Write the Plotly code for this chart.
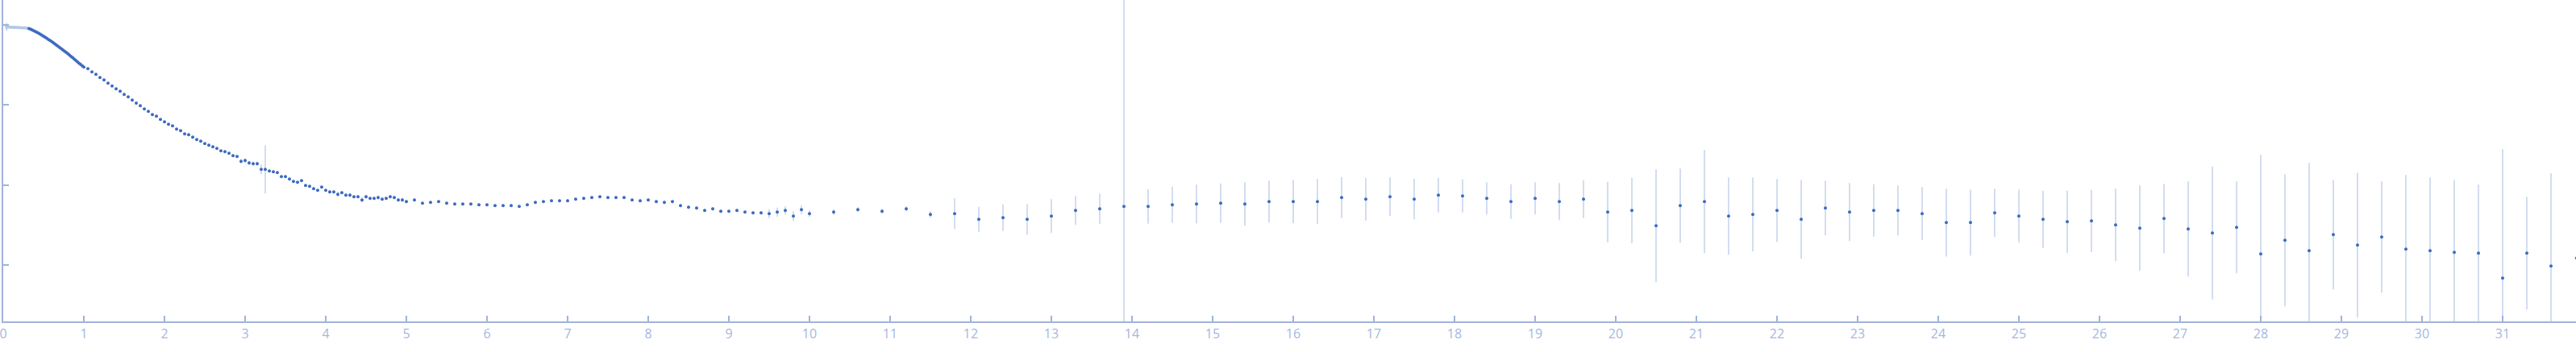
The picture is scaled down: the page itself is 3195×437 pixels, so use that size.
"""
Courbe de diffusion (log I en fonction de q) avec barres d'erreur
Reproduction en Plotly, export HTML
"""

import plotly.graph_objects as go

# --- Données -----------------------------------------------------------
# Points exclus (début de courbe, couleur claire)
q_excluded = [0.04, 0.06, 0.08, 0.10, 0.12, 0.14, 0.16, 0.18, 0.20, 0.22,
              0.24, 0.26, 0.28, 0.30]
logi_excluded = [-0.024, -0.027, -0.026, -0.029, -0.028, -0.031, -0.030,
                 -0.033, -0.032, -0.034, -0.036, -0.035, -0.038, -0.039]
err_excluded = [0.05, 0.006, 0.006, 0.006, 0.006, 0.006, 0.006, 0.006,
                0.006, 0.006, 0.006, 0.006, 0.006, 0.006]

# Région dense (0.32 -> 1.00)
q_dense = [0.32, 0.34, 0.36, 0.38, 0.40, 0.42, 0.44, 0.46, 0.48, 0.50,
           0.52, 0.54, 0.56, 0.58, 0.60, 0.62, 0.64, 0.66, 0.68, 0.70,
           0.72, 0.74, 0.76, 0.78, 0.80, 0.82, 0.84, 0.86, 0.88, 0.90,
           0.92, 0.94, 0.96, 0.98, 1.00]
logi_dense = [-0.045, -0.053, -0.062, -0.072, -0.082, -0.093, -0.104, -0.116, -0.128, -0.141,
              -0.154, -0.167, -0.180, -0.193, -0.207, -0.221, -0.236, -0.252, -0.267, -0.282,
              -0.297, -0.312, -0.327, -0.342, -0.357, -0.374, -0.391, -0.408, -0.426, -0.443,
              -0.460, -0.477, -0.494, -0.510, -0.525]

# Pas de 0.05 (1.05 -> 5.00)
q_fine = [1.05, 1.10, 1.15, 1.20, 1.25, 1.30, 1.35, 1.40, 1.45, 1.50,
          1.55, 1.60, 1.65, 1.70, 1.75, 1.80, 1.85, 1.90, 1.95, 2.00,
          2.05, 2.10, 2.15, 2.20, 2.25, 2.30, 2.35, 2.40, 2.45, 2.50,
          2.55, 2.60, 2.65, 2.70, 2.75, 2.80, 2.85, 2.90, 2.95, 3.00,
          3.05, 3.10, 3.15, 3.20, 3.25, 3.30, 3.35, 3.40, 3.45, 3.50,
          3.55, 3.60, 3.65, 3.70, 3.75, 3.80, 3.85, 3.90, 3.95, 4.00,
          4.05, 4.10, 4.15, 4.20, 4.25, 4.30, 4.35, 4.40, 4.45, 4.50,
          4.55, 4.60, 4.65, 4.70, 4.75, 4.80, 4.85, 4.90, 4.95, 5.00]
logi_fine = [-0.546, -0.587, -0.617, -0.657, -0.687, -0.727, -0.762, -0.798, -0.828, -0.868,
             -0.898, -0.939, -0.976, -1.009, -1.049, -1.079, -1.120, -1.140, -1.180, -1.210,
             -1.240, -1.261, -1.301, -1.321, -1.361, -1.371, -1.401, -1.432, -1.452, -1.482,
             -1.502, -1.522, -1.542, -1.572, -1.582, -1.603, -1.633, -1.643, -1.703, -1.693,
             -1.723, -1.733, -1.733, -1.804, -1.804, -1.824, -1.834, -1.844, -1.894, -1.894,
             -1.925, -1.955, -1.965, -1.945, -2.005, -2.015, -2.045, -2.065, -2.025, -2.065,
             -2.086, -2.086, -2.116, -2.096, -2.126, -2.126, -2.146, -2.146, -2.186, -2.146,
             -2.166, -2.166, -2.156, -2.176, -2.166, -2.146, -2.156, -2.186, -2.186, -2.206]
err_fine = [0.005, 0.005, 0.005, 0.005, 0.005, 0.005, 0.005, 0.005, 0.005, 0.005,
            0.005, 0.005, 0.005, 0.005, 0.005, 0.005, 0.005, 0.005, 0.005, 0.005,
            0.006, 0.006, 0.006, 0.006, 0.006, 0.008, 0.008, 0.008, 0.008, 0.008,
            0.010, 0.010, 0.010, 0.012, 0.012, 0.012, 0.015, 0.015, 0.030, 0.030,
            0.025, 0.025, 0.025, 0.060, 0.300, 0.015, 0.015, 0.015, 0.015, 0.015,
            0.015, 0.015, 0.015, 0.015, 0.015, 0.015, 0.015, 0.015, 0.015, 0.015,
            0.020, 0.020, 0.030, 0.020, 0.020, 0.025, 0.020, 0.020, 0.030, 0.020,
            0.020, 0.020, 0.025, 0.020, 0.020, 0.020, 0.020, 0.020, 0.025, 0.020]

# Pas de 0.1 (5.1 -> 10.0)
q_mid = [5.1, 5.2, 5.3, 5.4, 5.5, 5.6, 5.7, 5.8, 5.9, 6.0,
         6.1, 6.2, 6.3, 6.4, 6.5, 6.6, 6.7, 6.8, 6.9, 7.0,
         7.1, 7.2, 7.3, 7.4, 7.5, 7.6, 7.7, 7.8, 7.9, 8.0,
         8.1, 8.2, 8.3, 8.4, 8.5, 8.6, 8.7, 8.8, 8.9, 9.0,
         9.1, 9.2, 9.3, 9.4, 9.5, 9.6, 9.7, 9.8, 9.9, 10.0]
logi_mid = [-2.186, -2.226, -2.216, -2.206, -2.226, -2.236, -2.236, -2.236, -2.246, -2.246,
            -2.257, -2.257, -2.257, -2.267, -2.246, -2.216, -2.206, -2.196, -2.196, -2.196,
            -2.176, -2.166, -2.156, -2.146, -2.156, -2.156, -2.156, -2.186, -2.196, -2.186,
            -2.206, -2.216, -2.206, -2.257, -2.277, -2.287, -2.317, -2.297, -2.327, -2.327,
            -2.317, -2.337, -2.347, -2.347, -2.357, -2.337, -2.317, -2.387, -2.307, -2.357]
err_mid = [0.015, 0.018, 0.015, 0.015, 0.018, 0.015, 0.015, 0.018, 0.015, 0.015,
           0.015, 0.015, 0.015, 0.015, 0.018, 0.020, 0.015, 0.015, 0.015, 0.015,
           0.015, 0.015, 0.015, 0.015, 0.015, 0.015, 0.015, 0.015, 0.015, 0.015,
           0.020, 0.020, 0.020, 0.020, 0.020, 0.020, 0.020, 0.020, 0.020, 0.020,
           0.020, 0.020, 0.020, 0.020, 0.057, 0.057, 0.050, 0.060, 0.055, 0.040]

# Pas de 0.3 (10.3 -> 31.9)
q_coarse = [10.3, 10.6, 10.9, 11.2, 11.5, 11.8, 12.1, 12.4, 12.7, 13.0,
            13.3, 13.6, 13.9, 14.2, 14.5, 14.8, 15.1, 15.4, 15.7, 16.0,
            16.3, 16.6, 16.9, 17.2, 17.5, 17.8, 18.1, 18.4, 18.7, 19.0,
            19.3, 19.6, 19.9, 20.2, 20.5, 20.8, 21.1, 21.4, 21.7, 22.0,
            22.3, 22.6, 22.9, 23.2, 23.5, 23.8, 24.1, 24.4, 24.7, 25.0,
            25.3, 25.6, 25.9, 26.2, 26.5, 26.8, 27.1, 27.4, 27.7, 28.0,
            28.3, 28.6, 28.9, 29.2, 29.5, 29.8, 30.1, 30.4, 30.7, 31.0,
            31.3, 31.6, 31.918]
logi_coarse = [-2.337, -2.307, -2.327, -2.297, -2.367, -2.357, -2.428, -2.407, -2.428, -2.387,
               -2.317, -2.297, -2.267, -2.267, -2.246, -2.236, -2.226, -2.236, -2.206, -2.206,
               -2.206, -2.156, -2.176, -2.146, -2.176, -2.126, -2.136, -2.166, -2.206, -2.166,
               -2.206, -2.176, -2.337, -2.317, -2.508, -2.257, -2.206, -2.387, -2.367, -2.317,
               -2.428, -2.287, -2.337, -2.317, -2.317, -2.357, -2.468, -2.468, -2.347, -2.387,
               -2.428, -2.458, -2.448, -2.498, -2.538, -2.418, -2.548, -2.599, -2.528, -2.860,
               -2.689, -2.820, -2.619, -2.750, -2.649, -2.800, -2.820, -2.840, -2.850, -3.162,
               -2.850, -3.011, -2.911]
err_coarse = [0.035, 0.030, 0.030, 0.030, 0.040, 0.191, 0.156, 0.166, 0.191, 0.211,
              0.181, 0.191, 5.000, 0.216, 0.226, 0.241, 0.246, 0.272, 0.262, 0.272,
              0.282, 0.257, 0.267, 0.241, 0.252, 0.216, 0.206, 0.201, 0.216, 0.201,
              0.231, 0.236, 0.377, 0.409, 0.704, 0.463, 0.644, 0.483, 0.463, 0.392,
              0.493, 0.342, 0.362, 0.327, 0.312, 0.332, 0.423, 0.412, 0.302, 0.329,
              0.359, 0.389, 0.389, 0.453, 0.533, 0.433, 0.594, 0.830, 0.573, 1.237,
              0.825, 1.097, 0.684, 0.905, 0.694, 0.926, 0.915, 0.905, 0.855, 1.610,
              0.704, 1.157, 0.900]

x_ticks = list(range(0, 32))
y_ticks = [-3, -2, -1, 0]

# --- Styles ------------------------------------------------------------
AXIS_COLOR = "#9fb3dc"
LABEL_COLOR = "#a4b8e0"
POINT_COLOR = "#3d6bc0"
EXCLUDED_COLOR = "#b6c8e8"
ERR_COLOR = "#c4d2ea"

q_used = q_dense + q_fine + q_mid + q_coarse
logi_used = logi_dense + logi_fine + logi_mid + logi_coarse
err_used = [0.005] * len(q_dense) + err_fine + err_mid + err_coarse
assert len(q_used) == len(logi_used) == len(err_used)

fig = go.Figure()

fig.add_trace(go.Scatter(
    x=q_excluded, y=logi_excluded, mode="markers",
    marker=dict(color=EXCLUDED_COLOR, size=4),
    error_y=dict(type="data", array=err_excluded, color=EXCLUDED_COLOR,
                 thickness=1.5, width=0),
    showlegend=False, hoverinfo="x+y",
))

fig.add_trace(go.Scatter(
    x=q_used, y=logi_used, mode="markers",
    marker=dict(color=POINT_COLOR, size=4),
    error_y=dict(type="data", array=err_used, color=ERR_COLOR,
                 thickness=1.5, width=0),
    showlegend=False, hoverinfo="x+y",
))

fig.update_layout(
    width=3195, height=437,
    margin=dict(l=4, r=0, t=0, b=38),
    paper_bgcolor="white", plot_bgcolor="white",
    font=dict(family="Open Sans", size=16, color=LABEL_COLOR),
    xaxis=dict(
        range=[0, 31.91], tickvals=x_ticks,
        showgrid=False, zeroline=False,
        showline=True, linecolor=AXIS_COLOR, linewidth=1.5,
        ticks="inside", ticklen=7, tickwidth=1.5, tickcolor=AXIS_COLOR,
        tickfont=dict(size=16, color=LABEL_COLOR),
        ticklabeloverflow="allow",
    ),
    yaxis=dict(
        range=[-3.702, 0.312], tickvals=y_ticks,
        showgrid=False, zeroline=False,
        showline=True, linecolor=AXIS_COLOR, linewidth=1.5,
        ticks="inside", ticklen=7, tickwidth=1.5, tickcolor=AXIS_COLOR,
        showticklabels=False,
    ),
)

# marge par défaut du <body> supprimée pour coller au bord de la fenêtre
fig.write_html(
    "out.html",
    config={"displayModeBar": False},
    post_script="document.body.style.margin = '0';",
)
